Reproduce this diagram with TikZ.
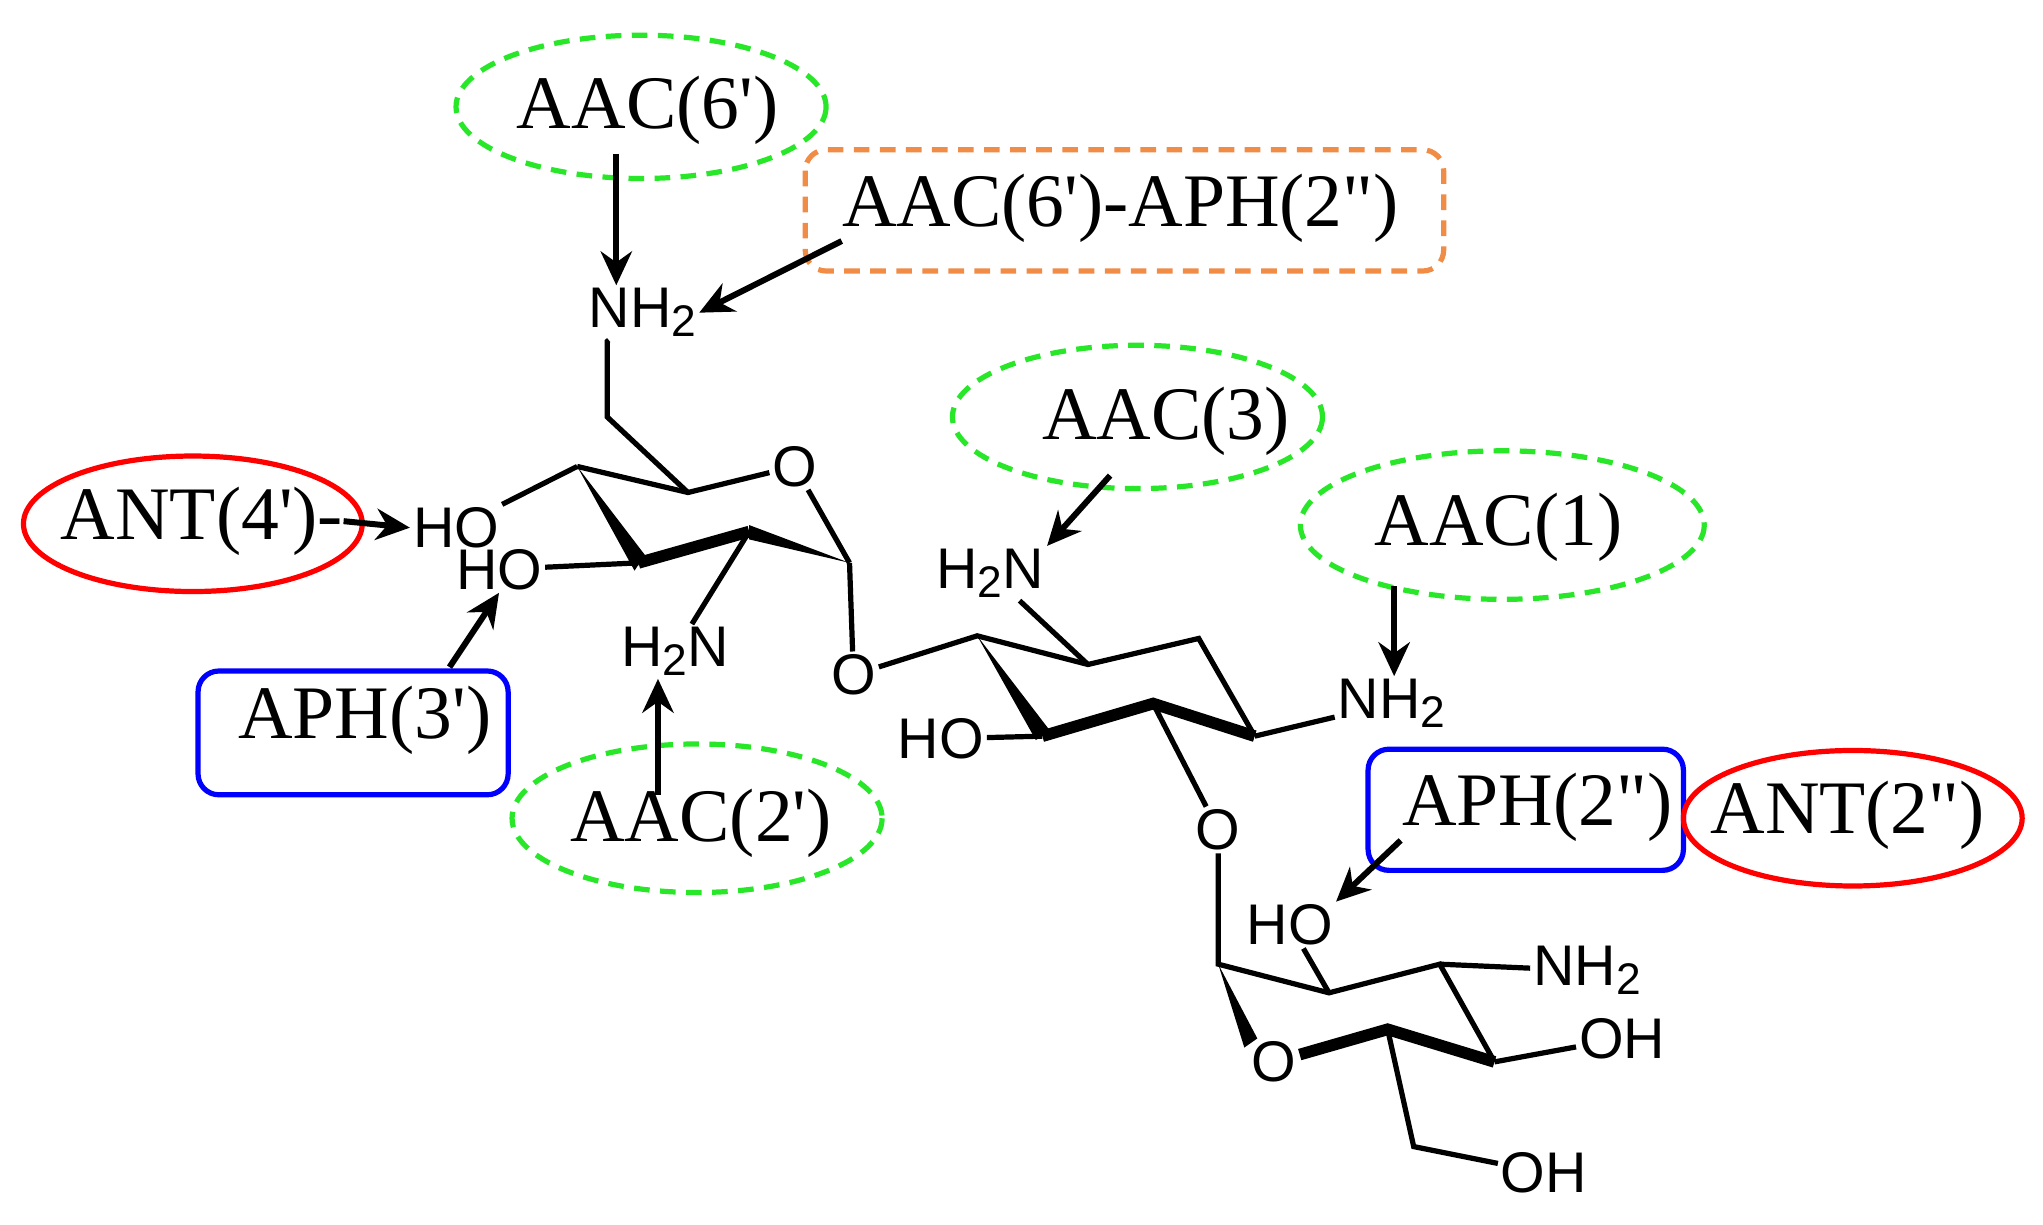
\documentclass[tikz,border=0pt]{standalone}
\usepackage{fontspec}
\setmainfont{Liberation Serif}
\newfontfamily\atomfont{Liberation Sans}
\usetikzlibrary{shapes.geometric,arrows.meta}
\definecolor{dgreen}{RGB}{40,230,40}
\definecolor{dorange}{RGB}{240,140,70}
\newcommand{\pr}{\textquotesingle}
\newcommand{\dpr}{\textquotedbl}
\newcommand{\sbt}[1]{\raisebox{-0.3ex}{\fontsize{17}{18}\selectfont #1}}
\tikzset{
 bond/.style={line width=2pt},
 bold/.style={line width=4.5pt},
 atom/.style={font=\atomfont\fontsize{22}{24}\selectfont,inner sep=1pt},
 enz/.style={font=\fontsize{29}{32}\selectfont,inner sep=0pt},
 gell/.style={ellipse,draw=dgreen,dashed,line width=2pt,dash pattern=on 6pt off 4pt},
 rell/.style={ellipse,draw=red,line width=2pt},
 brect/.style={draw=blue,rounded corners=8pt,line width=2pt},
 orect/.style={draw=dorange,rounded corners=8pt,line width=2pt,dash pattern=on 6pt off 4pt},
 arr/.style={line width=2.3pt,-{Stealth[length=13pt,width=12pt]}}
}
\begin{document}
\begin{tikzpicture}[x=0.5pt,y=-0.5pt]
\useasboundingbox (0,0) rectangle (1568,940);
% enzymes
\draw[gell] (492,82) ellipse [x radius=142,y radius=55];
\node[enz] (e1) at (497,85) {AAC(6\pr)};
\draw[orect] (618,115) rectangle (1108,208);
\node[enz] (e2) at (860,160) {AAC(6\pr)-APH(2\dpr)};
\draw[gell] (873,320) ellipse [x radius=142,y radius=55];
\node[enz] (e3) at (895,323) {AAC(3)};
\draw[gell] (1153,403) ellipse [x radius=155,y radius=57];
\node[enz] (e4) at (1150,405) {AAC(1)};
\draw[rell] (148,402) ellipse [x radius=130,y radius=52];
\node[enz] (e5) at (155,400) {ANT(4\pr)-};
\draw[brect] (152,515) rectangle (390,610);
\node[enz] (e6) at (280,553) {APH(3\pr)};
\draw[gell] (535,628) ellipse [x radius=142,y radius=57];
\node[enz] (e7) at (538,632) {AAC(2\pr)};
\draw[brect] (1050,575) rectangle (1292,668);
\node[enz] (e8) at (1180,620) {APH(2\dpr)};
\draw[rell] (1422,628) ellipse [x radius=130,y radius=52];
\node[enz] (e9) at (1418,626) {ANT(2\dpr)};
% atom labels
\node[atom] (n6) at (493,240) {NH\sbt{2}};
\node[atom] (ho4) at (350,405) {HO};
\node[atom] (ho3) at (383,437) {HO};
\node[atom] (n2p) at (518,500) {H\sbt{2}N};
\node[atom] (o1) at (610,358) {O};
\node[atom] (og1) at (655,518) {O};
\node[atom] (n3) at (760,440) {H\sbt{2}N};
\node[atom] (n1) at (1068,540) {NH\sbt{2}};
\node[atom] (ho6) at (722,567) {HO};
\node[atom] (og2) at (935,637) {O};
\node[atom] (ho2) at (990,710) {HO};
\node[atom] (n3p) at (1218,745) {NH\sbt{2}};
\node[atom] (oh4) at (1245,797) {OH};
\node[atom] (o5) at (978,815) {O};
\node[atom] (oh6) at (1185,900) {OH};
% ring 1
\coordinate (a6) at (466,320);
\coordinate (a4) at (443,358);
\coordinate (a5) at (528,378);
\coordinate (a1) at (652,432);
\coordinate (a2) at (575,408);
\coordinate (a3) at (490,432);
\draw[bond] (n6) -- (466,262) -- (a6) -- (a5);
\draw[bond] (a4) -- (a5) -- (o1) -- (a1);
\fill (a1) -- (575,403) -- (575,414) -- cycle;
\draw[bold] (a2) -- (a3);
\fill (a4) -- (487,438) -- (495,426) -- cycle;
\draw[bond] (a4) -- (ho4);
\draw[bond] (a3) -- (ho3);
\draw[bond] (a2) -- (n2p);
\draw[bond] (a1) -- (og1);
% ring 2
\coordinate (b1) at (750,488);
\coordinate (b2) at (835,510);
\coordinate (b3) at (920,490);
\coordinate (b4) at (963,565);
\coordinate (b5) at (885,540);
\coordinate (b6) at (800,565);
\draw[bond] (og1) -- (b1) -- (b2) -- (b3) -- (b4);
\draw[bold] (b4) -- (b5) -- (b6);
\fill (b1) -- (795,568) -- (806,561) -- cycle;
\draw[bond] (b2) -- (n3);
\draw[bond] (b4) -- (n1);
\draw[bond] (b6) -- (ho6);
\draw[bond] (b5) -- (og2);
% ring 3
\coordinate (c1) at (935,740);
\coordinate (c2) at (1020,762);
\coordinate (c3) at (1105,740);
\coordinate (c4) at (1147,815);
\coordinate (c5) at (1065,790);
\coordinate (c7) at (1085,880);
\draw[bond] (og2) -- (c1) -- (c2) -- (c3) -- (c4);
\draw[bold] (c4) -- (c5) -- (o5);
\fill (c1) -- (965,797) -- (955,804) -- cycle;
\draw[bond] (c2) -- (ho2);
\draw[bond] (c3) -- (n3p);
\draw[bond] (c4) -- (oh4);
\draw[bond] (c5) -- (c7) -- (oh6);
% arrows
\draw[arr] (473,118) -- (n6.north-|473,0);
\draw[arr] (e2.west|-0,185) -- (n6.east);
\draw[arr] (852,365) -- (n3.north east);
\draw[arr] (1070,450) -- (n1.north-|1070,0);
\draw[arr] (e5.east) -- (ho4.west);
\draw[arr] (345,512) -- (ho3.south);
\draw[arr] (505,610) -- (n2p.south-|505,0);
\draw[arr] (1075,645) -- (ho2.north east);
\end{tikzpicture}
\end{document}
